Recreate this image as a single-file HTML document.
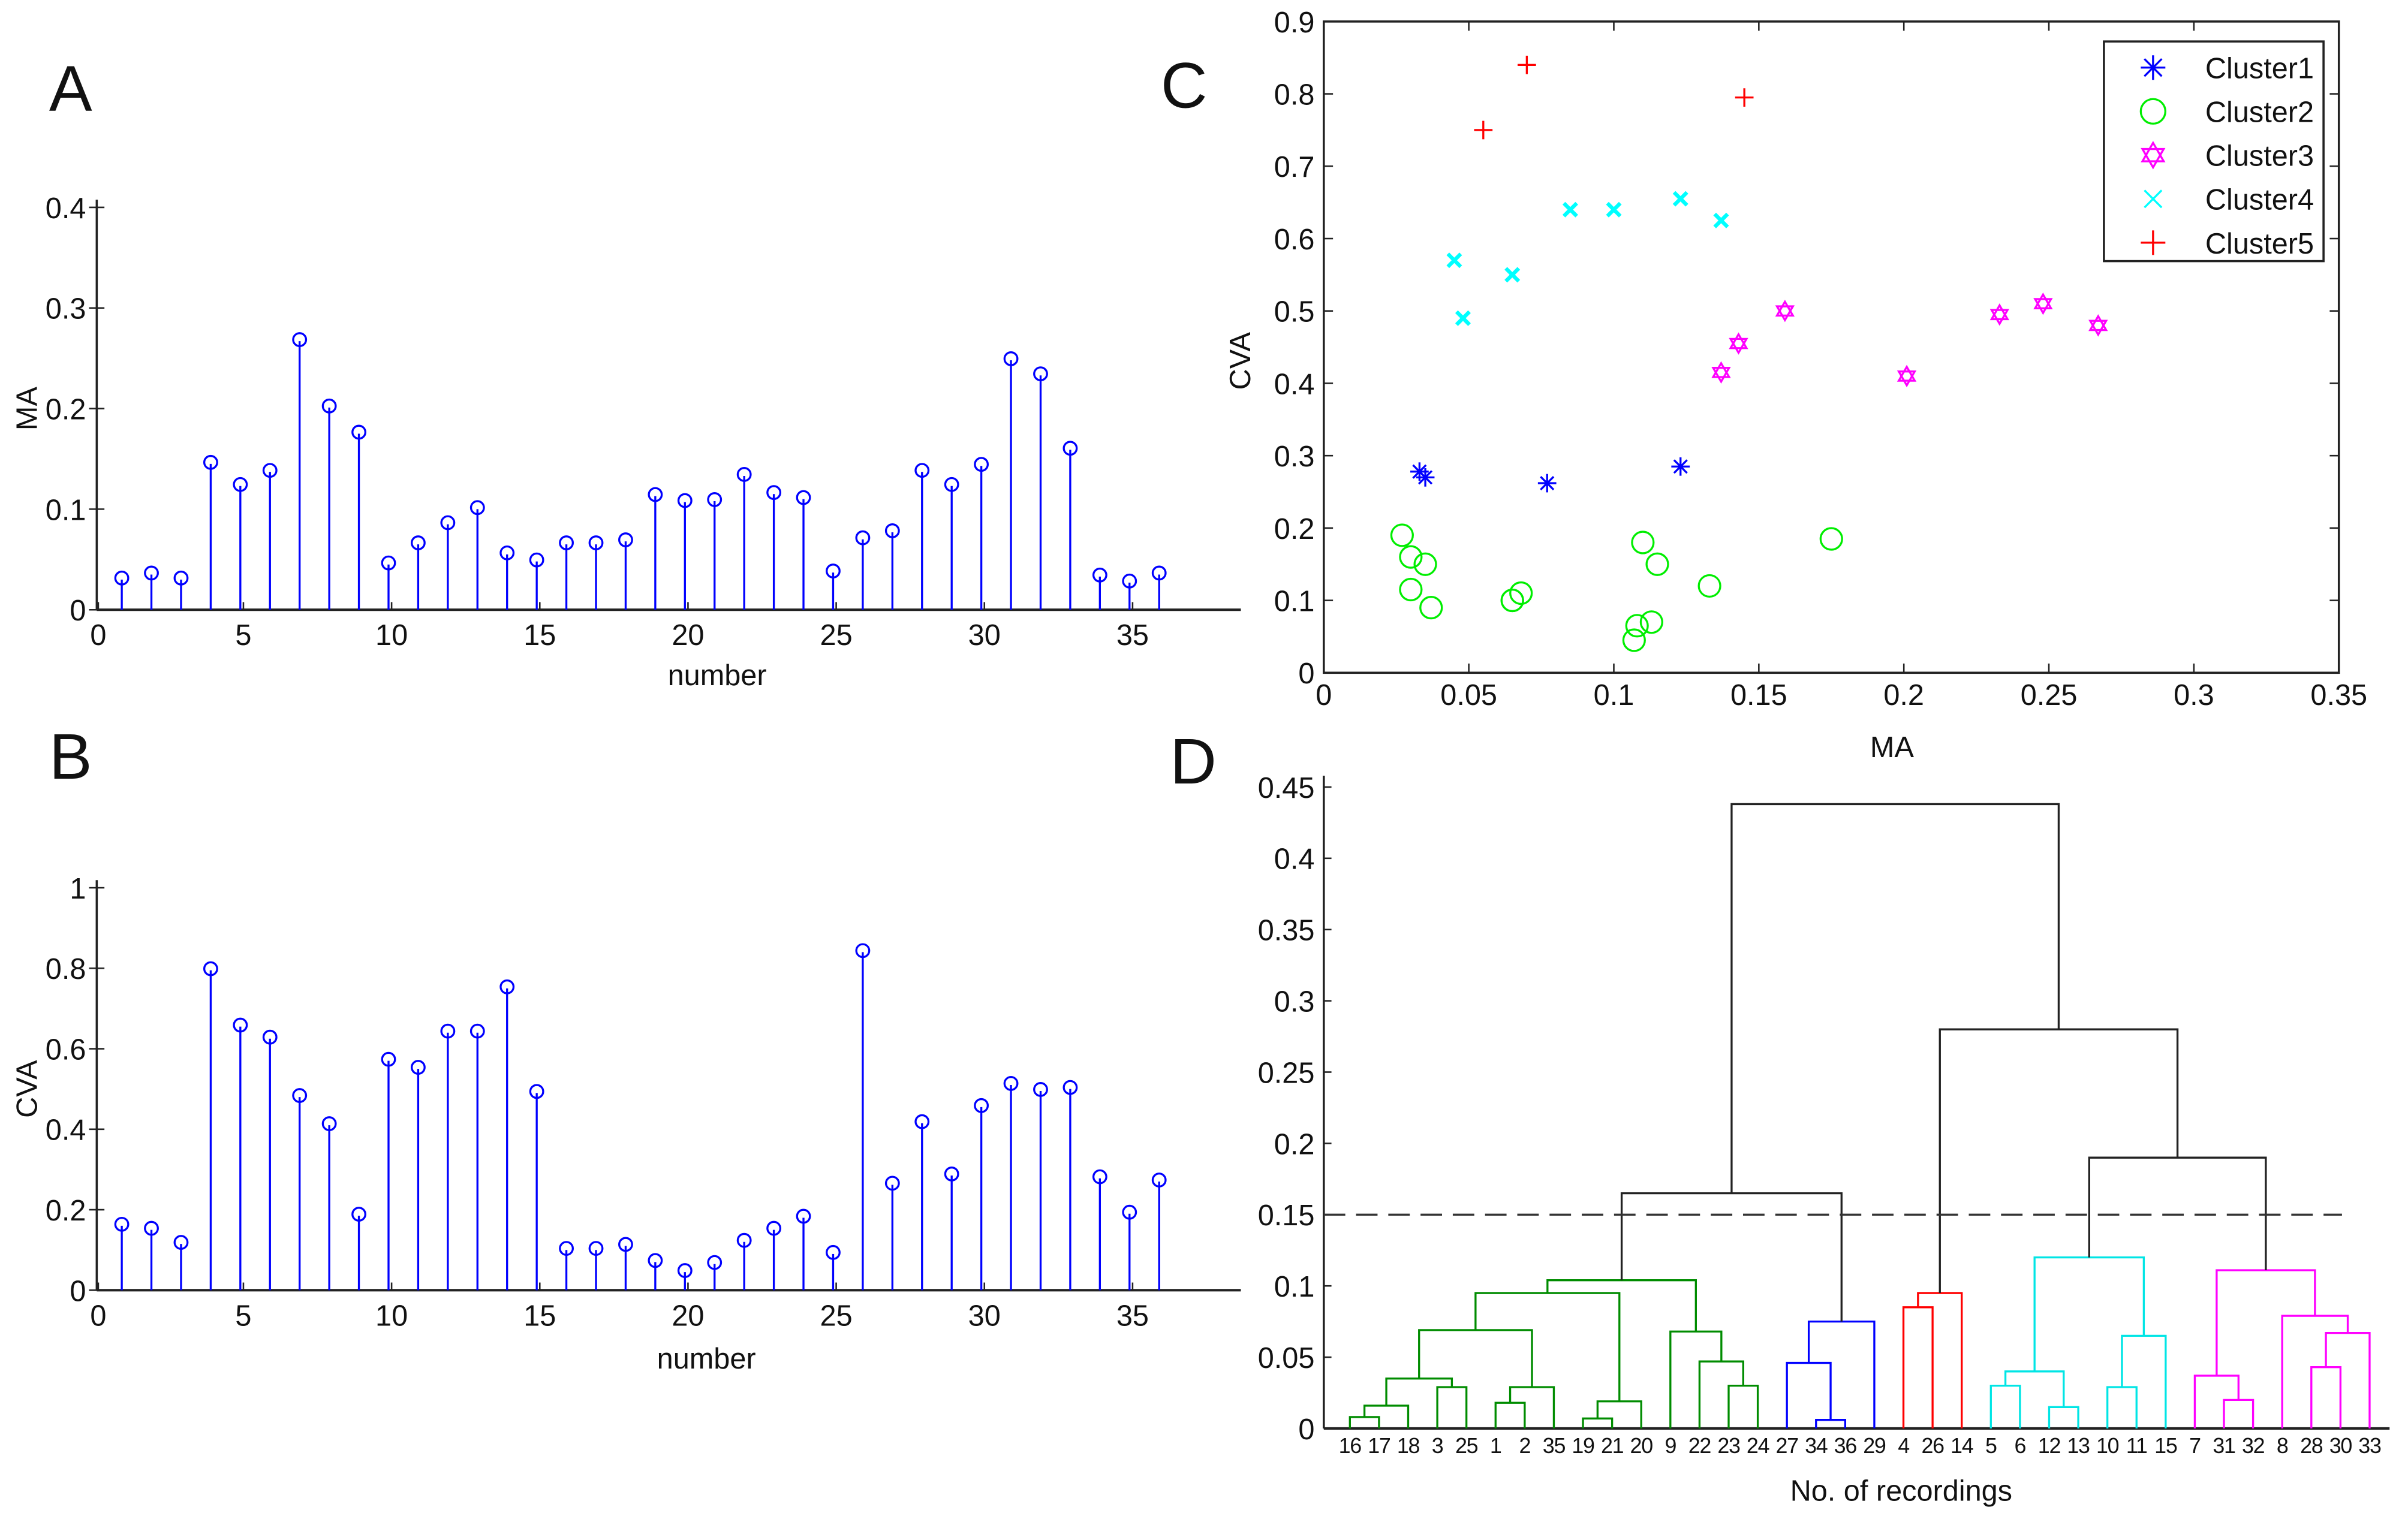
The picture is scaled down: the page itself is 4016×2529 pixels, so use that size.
<!DOCTYPE html>
<html><head><meta charset="utf-8"><style>
html,body{margin:0;padding:0;background:#fff;}
svg{display:block;font-family:"Liberation Sans",Arial,sans-serif;}
</style></head><body>
<svg id="fig" width="4016" height="2529" viewBox="0 0 1568 987" preserveAspectRatio="none" xmlns="http://www.w3.org/2000/svg"></svg>
<script>
// ---- data ----
const recordings = [1,2,3,4,5,6,7,8,9,10,11,12,13,14,15,16,17,18,19,20,21,22,23,24,25,26,27,28,29,30,31,32,33,34,35,36];
const maValues = [0.03,0.035,0.03,0.145,0.123,0.137,0.267,0.201,0.175,0.045,0.065,0.085,0.1,0.055,0.048,0.065,0.065,0.068,0.113,0.107,0.108,0.133,0.115,0.11,0.037,0.07,0.077,0.137,0.123,0.143,0.248,0.233,0.159,0.033,0.027,0.035];
const cvaValues = [0.16,0.15,0.115,0.795,0.655,0.625,0.48,0.41,0.185,0.57,0.55,0.64,0.64,0.75,0.49,0.1,0.1,0.11,0.07,0.045,0.065,0.12,0.15,0.18,0.09,0.84,0.262,0.415,0.285,0.455,0.51,0.495,0.5,0.278,0.19,0.27];
const clusterOf = [2,2,2,5,4,4,3,3,2,4,4,4,4,5,4,2,2,2,2,2,2,2,2,2,2,5,1,3,1,3,3,3,3,1,2,1];
const clusterNames = ["Cluster1","Cluster2","Cluster3","Cluster4","Cluster5"];
const clusterColors = ["#0000ff","#00ee00","#ff00ff","#00ffff","#ff0000"];
const dendColors = ["#0000ff","#008c00","#ff00ff","#00e5e5","#ff0000"];
const leafOrder = [16,17,18,3,25,1,2,35,19,21,20,9,22,23,24,27,34,36,29,4,26,14,5,6,12,13,10,11,15,7,31,32,8,28,30,33];
// tree: [left,right,height]
const tree = [[[[[[[[16,17,0.008],18,0.016],[3,25,0.029],0.035],[[1,2,0.018],35,0.029],0.069],[[19,21,0.007],20,0.019],0.095],[9,[22,[23,24,0.030],0.047],0.068],0.104],[[27,[34,36,0.006],0.046],29,0.075],0.165],
 [[[4,26,0.085],14,0.095],[[[[5,6,0.030],[12,13,0.015],0.040],[[10,11,0.029],15,0.065],0.12],[[7,[31,32,0.02],0.037],[8,[[28,30,0.043],33,0.067],0.079],0.111],0.19],0.28],0.438];
const cutHeight = 0.15;
const ticksA = [0,0.1,0.2,0.3,0.4];
const ticksB = [0,0.2,0.4,0.6,0.8,1];
const ticksX = [0,5,10,15,20,25,30,35];
const ticksCX = [0,0.05,0.1,0.15,0.2,0.25,0.3,0.35];
const ticksCY = [0,0.1,0.2,0.3,0.4,0.5,0.6,0.7,0.8,0.9];
const ticksD = [0,0.05,0.1,0.15,0.2,0.25,0.3,0.35,0.4,0.45];

const NS="http://www.w3.org/2000/svg";
const svg=document.getElementById('fig');
function mk(tag,attrs,parent,text){const e=document.createElementNS(NS,tag);for(const k in attrs)e.setAttribute(k,attrs[k]);if(text!==undefined)e.textContent=text;(parent||svg).appendChild(e);return e;}
function grp(name){const g=mk('g',{});return g;}
function txt(parent,x,y,s,size,anchor,name,rot){const t=mk('text',{x:x,y:y,'font-size':size,'text-anchor':anchor||'middle',fill:'#111'},parent,s);if(rot)t.setAttribute('transform','rotate(-90 '+x+' '+y+')');return t;}
function fmt(v){return String(v);}

// ---- stem plots ----
function stem(name,letter,ly,vals,ticks,y0,yTopVal,yTopPx,ylabel,xlabelX,xlabelY){
  const g=grp(name);
  const xs=v=>60+v*19.3, ys=v=>y0-(v/yTopVal)*(y0-yTopPx);
  txt(g,46,ly,letter,42,'middle',name+'-letter');
  mk('line',{x1:63,y1:y0,x2:808,y2:y0,stroke:'#222','stroke-width':1.6},g);
  mk('line',{x1:63,y1:y0,x2:63,y2:yTopPx-5,stroke:'#222','stroke-width':1.4},g);
  ticks.forEach(t=>{const y=ys(t);mk('line',{x1:58,y1:y,x2:68,y2:y,stroke:'#222'},g);txt(g,56,y+7,fmt(t),19,'end','y-tick-label');});
  ticksX.forEach(t=>{const x=t===0?64:xs(t)+2;mk('line',{x1:x,y1:y0,x2:x,y2:y0-5,stroke:'#222'},g);txt(g,x,y0+23,String(t),19,'middle','x-tick-label');});
  vals.forEach((v,i)=>{const x=xs(recordings[i]),y=ys(v);
    const l=mk('line',{x1:x,y1:y0,x2:x,y2:y,stroke:'#0000ff','stroke-width':1.3},g);
    
    const c=mk('circle',{cx:x,cy:y-1,r:4.2,fill:'none',stroke:'#0000ff','stroke-width':1.3},g);
    
  });
  txt(g,24,(y0+yTopPx)/2,ylabel,19,'middle','y-axis-title',true);
  txt(g,xlabelX,xlabelY,'number',19,'middle','x-axis-title');
}
stem('panel-a','A',72,maValues,ticksA,397,0.4,135,'MA',467,446);
stem('panel-b','B',507,cvaValues,ticksB,840,1,578,'CVA',460,891);

// ---- scatter C ----
(function(){
  const g=grp('panel-c');
  const L=862,R=1523,T=14,B=438;
  const xs=v=>L+v/0.35*(R-L), ys=v=>B-v/0.9*(B-T);
  txt(g,771,70,'C',42,'middle','panel-c-letter');
  const box=mk('rect',{x:L,y:T,width:R-L,height:B-T,fill:'none',stroke:'#222','stroke-width':1.4},g);
  ticksCX.forEach(t=>{const x=xs(t);mk('line',{x1:x,y1:B,x2:x,y2:B-6,stroke:'#222'},g);mk('line',{x1:x,y1:T,x2:x,y2:T+6,stroke:'#222'},g);txt(g,x,B+21,fmt(t),19,'middle','x-tick-label');});
  ticksCY.forEach(t=>{const y=ys(t);mk('line',{x1:L,y1:y,x2:L+6,y2:y,stroke:'#222'},g);mk('line',{x1:R,y1:y,x2:R-6,y2:y,stroke:'#222'},g);txt(g,L-6,y+7,fmt(t),19,'end','y-tick-label');});
  txt(g,814,235,'CVA',19,'middle','y-axis-title',true);
  txt(g,1232,493,'MA',19,'middle','x-axis-title');
  function marker(k,x,y,par,sz){const c=clusterColors[k-1];const m=mk('g',{stroke:c,fill:'none','stroke-width':1.3},par);const s=sz||6;
    if(k===1){for(let a=0;a<4;a++){const an=a*Math.PI/4;mk('line',{x1:x-s*Math.cos(an),y1:y-s*Math.sin(an),x2:x+s*Math.cos(an),y2:y+s*Math.sin(an)},m);}}
    else if(k===2){mk('circle',{cx:x,cy:y,r:s+1},m);}
    else if(k===3){const r=s,pts1=[],pts2=[];for(let a=0;a<3;a++){const an1=-Math.PI/2+a*2*Math.PI/3,an2=Math.PI/2+a*2*Math.PI/3;pts1.push((x+r*Math.cos(an1))+','+(y+r*Math.sin(an1)));pts2.push((x+r*Math.cos(an2))+','+(y+r*Math.sin(an2)));}
      mk('polygon',{points:pts1.join(' ')},m);mk('polygon',{points:pts2.join(' ')},m);}
    else if(k===4){m.setAttribute('stroke-width',!sz?2.5:1.3);mk('line',{x1:x-s*0.7,y1:y-s*0.7,x2:x+s*0.7,y2:y+s*0.7},m);mk('line',{x1:x-s*0.7,y1:y+s*0.7,x2:x+s*0.7,y2:y-s*0.7},m);}
    else {mk('line',{x1:x-s,y1:y,x2:x+s,y2:y},m);mk('line',{x1:x,y1:y-s,x2:x,y2:y+s},m);}
    return m;}
  recordings.forEach((r,i)=>{const m=marker(clusterOf[i],xs(maValues[i]),ys(cvaValues[i]),g);
    
    });
  const lg=grp('legend');g.appendChild(lg);
  const lb=mk('rect',{x:1370,y:27,width:143,height:143,fill:'#fff',stroke:'#222','stroke-width':1.4},lg);
  clusterNames.forEach((n,i)=>{const y=44+i*28.5;const e=grp('legend-entry');lg.appendChild(e);marker(i+1,1402,y,e,i===1?7:8);txt(e,1436,y+7,n,19,'start','legend-label');});
})();

// ---- dendrogram D ----
(function(){
  const g=grp('panel-d');
  const L=862,B=930,yPer=928;
  const ys=v=>B-v*yPer;
  txt(g,777,510,'D',42,'middle','panel-d-letter');
  mk('line',{x1:L,y1:B,x2:1556,y2:B,stroke:'#222','stroke-width':1.6},g);
  mk('line',{x1:L,y1:B,x2:L,y2:505,stroke:'#222','stroke-width':1.4},g);
  ticksD.forEach(t=>{const y=ys(t);mk('line',{x1:L,y1:y,x2:L+5,y2:y,stroke:'#222'},g);txt(g,L-6,y+7,fmt(t),19,'end','y-tick-label');});
  const x0=879,dx=(1543-879)/35;
  const leafX={};leafOrder.forEach((r,i)=>{leafX[r]=x0+i*dx;const t=txt(g,leafX[r],946,String(r),14,'middle','leaf-label-'+r);t.setAttribute('letter-spacing','-0.5');});
  function layout(n){
    if(typeof n==='number')return {x:leafX[n],h:0,cl:clusterOf[n-1]};
    const a=layout(n[0]),b=layout(n[1]),h=n[2];
    const cl=(h<cutHeight&&a.cl===b.cl)?a.cl:0;
    const col=cl?dendColors[cl-1]:'#222';
    const p=mk('path',{d:'M'+a.x+','+ys(a.h)+'V'+ys(h)+'H'+b.x+'V'+ys(b.h),fill:'none',stroke:col,'stroke-width':1.3},g);
    
    return {x:(a.x+b.x)/2,h:h,cl:cl};
  }
  layout(tree);
  const d=mk('line',{x1:L,y1:ys(cutHeight),x2:1525,y2:ys(cutHeight),stroke:'#333','stroke-width':1.3,'stroke-dasharray':'14,7'},g);
  
  txt(g,1238,977,'No. of recordings',19,'middle','x-axis-title');
})();
</script>
</body></html>
